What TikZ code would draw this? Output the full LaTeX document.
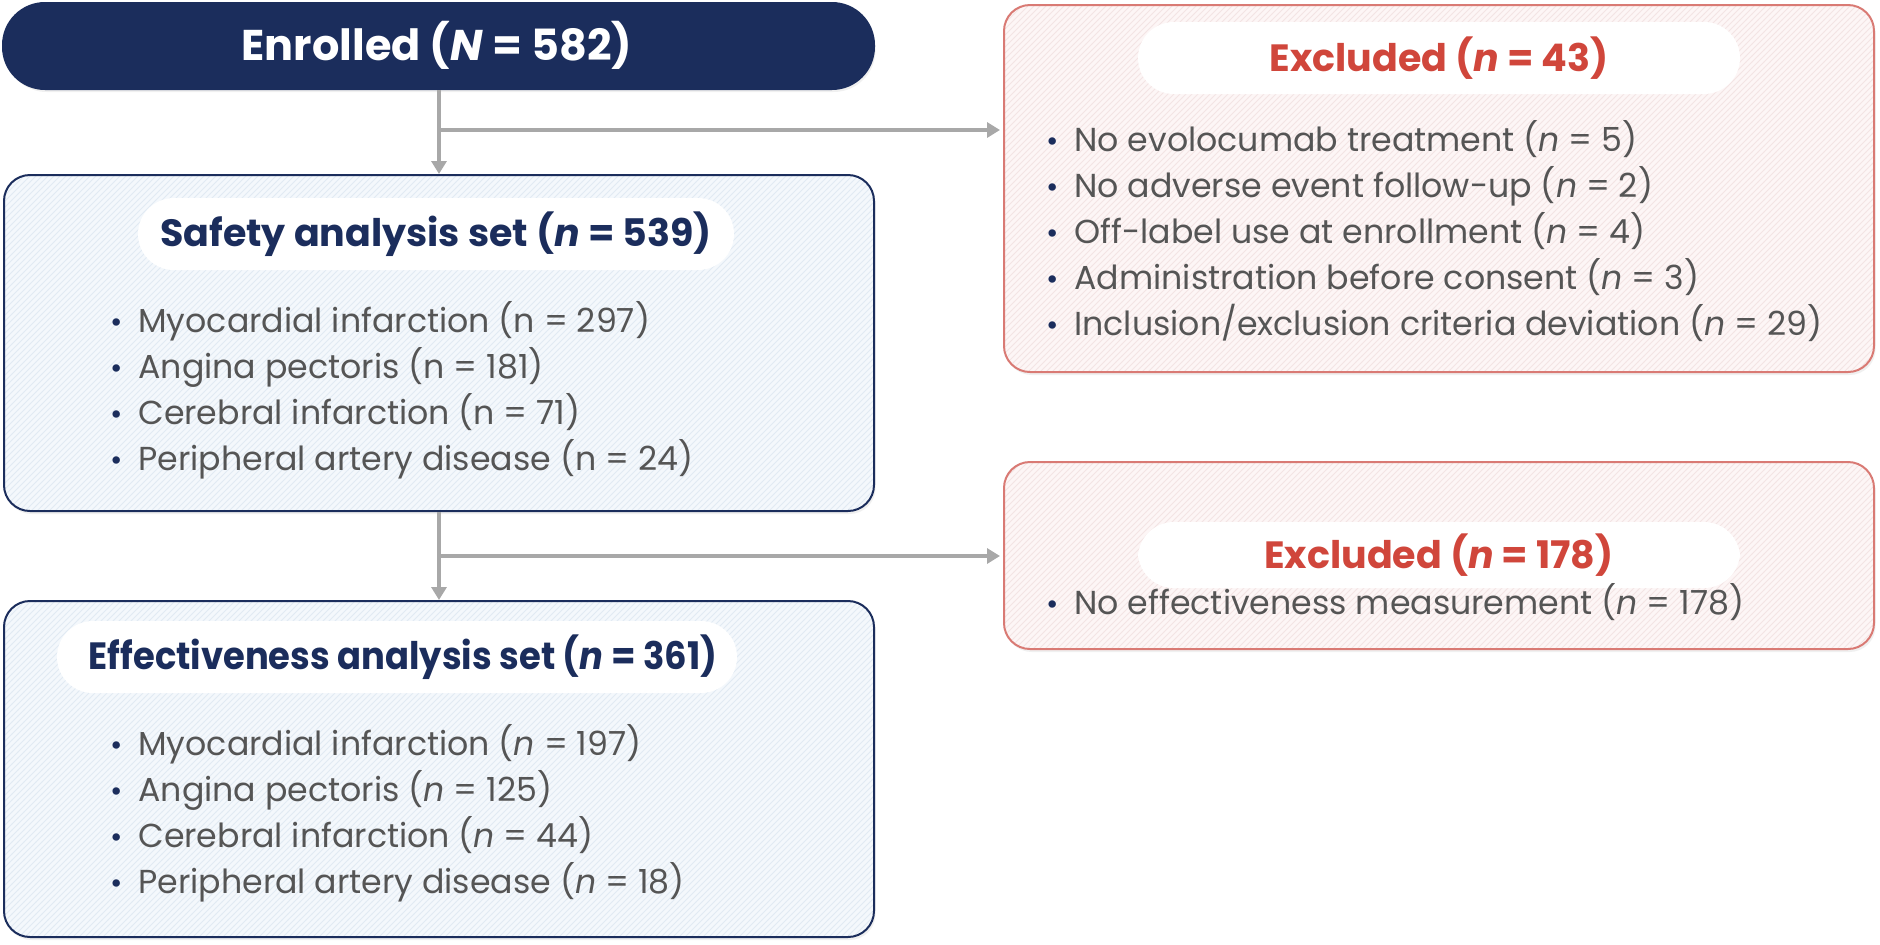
\documentclass[tikz,border=0pt]{standalone}
\usepackage{fontspec}
\setmainfont{Poppins}
\usetikzlibrary{arrows.meta,patterns,calc,shadows}
\definecolor{navy}{HTML}{1B2D5C}
\definecolor{bluefill}{HTML}{F4F8FC}
\definecolor{bluehatch}{HTML}{E1EAF3}
\definecolor{pinkfill}{HTML}{FDF6F6}
\definecolor{pinkhatch}{HTML}{F3E4E4}
\definecolor{redline}{HTML}{D97A74}
\definecolor{redtitle}{HTML}{D0463B}
\definecolor{bodygray}{HTML}{555555}
\definecolor{arrowgray}{HTML}{A8A8A8}
\tikzset{
  box/.style={anchor=north west, rounded corners=13pt, line width=1pt, inner sep=0pt,
    drop shadow={opacity=0.12, shadow xshift=0.8pt, shadow yshift=-1.5pt}},
  bluebox/.style={box, preaction={fill=bluefill}, preaction={pattern=north east lines, pattern color=bluehatch}, draw=navy},
  redbox/.style={box, preaction={fill=pinkfill}, preaction={pattern=north east lines, pattern color=pinkhatch}, draw=redline},
  pill/.style={fill=white, rounded corners=18pt, minimum height=36pt, inner sep=0pt},
  titletext/.style={font=\fontsize{19}{22}\selectfont\bfseries, inner sep=0pt},
  listtext/.style={anchor=west, align=left, inner sep=0pt, font=\fontsize{16.6}{23}\selectfont, text=bodygray},
  arr/.style={draw=arrowgray, line width=2pt, -{Triangle[width=7.5pt,length=6.5pt]}},
  ln/.style={draw=arrowgray, line width=2pt}
}
\newcommand{\bul}{\makebox[14pt][l]{\textcolor{navy}{\fontsize{15}{15}\selectfont\textbullet}}}
\begin{document}
\begin{tikzpicture}[x=0.5pt,y=-0.5pt]
\useasboundingbox (0,0) rectangle (1880,944);
% Enrolled
\node[box, fill=navy, draw=navy, rounded corners=21pt, minimum width=435.5pt, minimum height=43pt] (enr) at (2,2) {};
\node[font=\fontsize{21.5}{25}\selectfont\bfseries, text=white, inner sep=0pt] (enrt) at (437,45) {Enrolled (\textit{N} = 582)};
% Safety
\node[bluebox, minimum width=435pt, minimum height=168pt] (saf) at (3,174) {};
\node[pill, minimum width=298pt] (safp) at (436,234) {};
\node[titletext, text=navy] (saft) at (436,234) {Safety analysis set (\textit{n} = 539)};
\node[listtext] (safl) at (110,390) {\bul Myocardial infarction (n = 297)\\ \bul Angina pectoris (n = 181)\\ \bul Cerebral infarction (n = 71)\\ \bul Peripheral artery disease (n = 24)};
% Effectiveness
\node[bluebox, minimum width=435pt, minimum height=168pt] (eff) at (3,600) {};
\node[pill, minimum width=340pt] (effp) at (397,657) {};
\node[titletext, text=navy] (efft) at (403,657) {\scalebox{0.93}[1]{Effectiveness analysis set (\textit{n} = 361)}};
\node[listtext] (effl) at (110,813) {\bul Myocardial infarction (\textit{n} = 197)\\ \bul Angina pectoris (\textit{n} = 125)\\ \bul Cerebral infarction (\textit{n} = 44)\\ \bul Peripheral artery disease (\textit{n} = 18)};
% Excluded 43
\node[redbox, minimum width=435pt, minimum height=183.5pt] (ex1) at (1003,4) {};
\node[pill, minimum width=301pt] (ex1p) at (1439,58) {};
\node[titletext, text=redtitle] (ex1t) at (1439,58) {Excluded (\textit{n} = 43)};
\node[listtext] (ex1l) at (1046,231) {\bul No evolocumab treatment (\textit{n} = 5)\\ \bul No adverse event follow-up (\textit{n} = 2)\\ \bul Off-label use at enrollment (\textit{n} = 4)\\ \bul Administration before consent (\textit{n} = 3)\\ \bul Inclusion/exclusion criteria deviation (\textit{n} = 29)};
% Excluded 178
\node[redbox, minimum width=435pt, minimum height=93.5pt] (ex2) at (1003,461) {};
\node[pill, minimum width=301pt, minimum height=33pt] (ex2p) at (1439,555) {};
\node[titletext, text=redtitle] (ex2t) at (1439,555) {Excluded (\textit{n} = 178)};
\node[listtext] (ex2l) at (1046,602) {\bul No effectiveness measurement (\textit{n} = 178)};
% connectors
\coordinate (j1) at (439,130);
\coordinate (j2) at (439,556);
\draw[ln] (enr.south -| j1) -- (j1);
\draw[arr] (j1) -- (saf.north -| j1);
\draw[arr] (j1) -- ($(j1 -| ex1.west)+(-3,0)$);
\draw[ln] (saf.south -| j2) -- (j2);
\draw[arr] (j2) -- (eff.north -| j2);
\draw[arr] (j2) -- ($(j2 -| ex2.west)+(-3,0)$);
\end{tikzpicture}
\end{document}
